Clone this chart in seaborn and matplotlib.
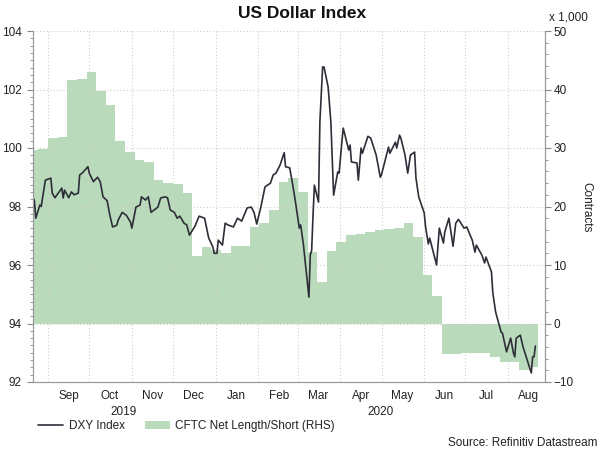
import pandas as pd
import numpy as np
import seaborn as sns
import matplotlib.pyplot as plt
import matplotlib.dates as mdates
import matplotlib.ticker as mticker
from matplotlib.lines import Line2D
from matplotlib.patches import Patch
from matplotlib.transforms import blended_transform_factory

# DXY index
dxy_dates = [
    "2019-08-21", "2019-08-22", "2019-08-23", "2019-08-26", "2019-08-27", "2019-08-30",
    "2019-09-03", "2019-09-04", "2019-09-06", "2019-09-11", "2019-09-12", "2019-09-13",
    "2019-09-16", "2019-09-18", "2019-09-20", "2019-09-23", "2019-09-24", "2019-09-26",
    "2019-09-30", "2019-10-01", "2019-10-04", "2019-10-07", "2019-10-09", "2019-10-11",
    "2019-10-14", "2019-10-16", "2019-10-18", "2019-10-21", "2019-10-22", "2019-10-25",
    "2019-10-28", "2019-10-31", "2019-11-01", "2019-11-04", "2019-11-07", "2019-11-08",
    "2019-11-11", "2019-11-13", "2019-11-15", "2019-11-20", "2019-11-22", "2019-11-25",
    "2019-11-27", "2019-11-29", "2019-12-02", "2019-12-04", "2019-12-06", "2019-12-09",
    "2019-12-11", "2019-12-13", "2019-12-17", "2019-12-20", "2019-12-24", "2019-12-27",
    "2019-12-30", "2019-12-31", "2020-01-02", "2020-01-03", "2020-01-06", "2020-01-08",
    "2020-01-10", "2020-01-14", "2020-01-17", "2020-01-20", "2020-01-24", "2020-01-27",
    "2020-01-29", "2020-01-31", "2020-02-03", "2020-02-06", "2020-02-10", "2020-02-12",
    "2020-02-14", "2020-02-17", "2020-02-20", "2020-02-21", "2020-02-24", "2020-02-26",
    "2020-02-28", "2020-03-02", "2020-03-03", "2020-03-05", "2020-03-09", "2020-03-10",
    "2020-03-11", "2020-03-12", "2020-03-13", "2020-03-16", "2020-03-17", "2020-03-19",
    "2020-03-20", "2020-03-23", "2020-03-25", "2020-03-27", "2020-03-30", "2020-03-31",
    "2020-04-02", "2020-04-03", "2020-04-07", "2020-04-08", "2020-04-09", "2020-04-13",
    "2020-04-14", "2020-04-16", "2020-04-17", "2020-04-21", "2020-04-23", "2020-04-27",
    "2020-04-30", "2020-05-01", "2020-05-04", "2020-05-06", "2020-05-07", "2020-05-11",
    "2020-05-12", "2020-05-14", "2020-05-15", "2020-05-18", "2020-05-20", "2020-05-22",
    "2020-05-25", "2020-05-26", "2020-05-28", "2020-06-01", "2020-06-02", "2020-06-04",
    "2020-06-05", "2020-06-10", "2020-06-12", "2020-06-15", "2020-06-16", "2020-06-19",
    "2020-06-22", "2020-06-24", "2020-06-26", "2020-06-30", "2020-07-02", "2020-07-06",
    "2020-07-08", "2020-07-09", "2020-07-13", "2020-07-15", "2020-07-16", "2020-07-20",
    "2020-07-21", "2020-07-23", "2020-07-27", "2020-07-28", "2020-07-31", "2020-08-03",
    "2020-08-05", "2020-08-06", "2020-08-07", "2020-08-10", "2020-08-12", "2020-08-18",
    "2020-08-19", "2020-08-20", "2020-08-21",
]
dxy_values = [
    98.30, 98.20, 97.60, 98.05, 98.00, 98.90,
    98.97, 98.46, 98.30, 98.63, 98.29, 98.56,
    98.30, 98.50, 98.40, 98.46, 99.08, 99.15,
    99.36, 99.14, 98.85, 99.00, 98.85, 98.33,
    98.20, 97.70, 97.30, 97.36, 97.53, 97.80,
    97.70, 97.47, 97.26, 97.98, 98.05, 98.33,
    98.22, 98.33, 97.80, 97.98, 98.29, 98.33,
    98.30, 97.88, 97.80, 97.60, 97.67, 97.43,
    97.37, 97.02, 97.33, 97.67, 97.60, 96.92,
    96.62, 96.40, 96.40, 96.85, 96.68, 97.43,
    97.37, 97.30, 97.60, 97.50, 97.95, 97.98,
    97.80, 97.40, 97.98, 98.67, 98.80, 99.08,
    99.14, 99.42, 99.84, 99.36, 99.32, 98.80,
    98.22, 97.26, 97.37, 96.70, 94.90, 96.34,
    96.50, 97.70, 98.73, 98.15, 100.89, 102.77,
    102.77, 102.09, 100.89, 98.39, 99.18, 99.14,
    100.20, 100.68, 99.93, 100.10, 99.52, 99.49,
    98.90, 100.00, 99.82, 100.40, 100.34, 99.76,
    99.00, 99.11, 99.66, 100.03, 99.82, 100.20,
    100.00, 100.44, 100.34, 99.76, 99.14, 99.76,
    99.86, 98.97, 98.33, 97.78, 97.30, 96.72,
    96.92, 96.00, 97.26, 96.75, 97.13, 97.60,
    96.64, 97.43, 97.56, 97.26, 97.30, 96.85,
    96.44, 96.68, 96.34, 96.07, 96.27, 95.76,
    95.04, 94.40, 93.71, 93.67, 93.03, 93.50,
    92.99, 92.86, 93.50, 93.60, 93.20, 92.31,
    92.86, 92.86, 93.23,
]

# CFTC net length / short, thousands of contracts, weekly (week starting)
cftc_weeks = [
    "2019-08-18", "2019-08-25", "2019-09-01", "2019-09-08", "2019-09-15", "2019-09-22",
    "2019-09-29", "2019-10-06", "2019-10-13", "2019-10-20", "2019-10-27", "2019-11-03",
    "2019-11-10", "2019-11-17", "2019-11-24", "2019-12-01", "2019-12-08", "2019-12-15",
    "2019-12-22", "2019-12-29", "2020-01-05", "2020-01-12", "2020-01-19", "2020-01-26",
    "2020-02-02", "2020-02-09", "2020-02-16", "2020-02-23", "2020-03-01", "2020-03-08",
    "2020-03-15", "2020-03-22", "2020-03-29", "2020-04-05", "2020-04-12", "2020-04-19",
    "2020-04-26", "2020-05-03", "2020-05-10", "2020-05-17", "2020-05-24", "2020-05-31",
    "2020-06-07", "2020-06-14", "2020-06-21", "2020-06-28", "2020-07-05", "2020-07-12",
    "2020-07-19", "2020-07-26", "2020-08-02", "2020-08-09", "2020-08-16", "2020-08-23",
]
cftc_values = [
    29.7, 29.9, 31.7, 31.9, 41.6, 41.8,
    43.0, 39.7, 37.3, 31.2, 29.3, 28.0,
    27.6, 24.5, 24.0, 23.8, 22.3, 11.6,
    13.1, 12.6, 12.1, 13.2, 13.3, 16.5,
    17.2, 19.4, 24.2, 24.9, 22.4, 12.2,
    7.1, 12.4, 13.9, 15.1, 15.3, 15.6,
    15.9, 16.2, 16.3, 17.2, 14.8, 8.3,
    4.7, -5.2, -5.2, -5.1, -5.0, -5.0,
    -5.7, -6.6, -6.6, -8.0, -7.4, -7.4,
]

year_labels = [("2019", "2019-08-21", "2019-12-31"), ("2020", "2020-01-01", "2020-08-28")]

line_color = "#2e2e38"
fill_color = "#b9dbbb"
grid_color = "#cfcfc4"
text_color = "#222222"

sns.set_style("white")
plt.rcParams["font.family"] = ["Liberation Sans", "DejaVu Sans"]
plt.rcParams["font.size"] = 8.5

dxy = pd.DataFrame({"date": pd.to_datetime(dxy_dates), "value": dxy_values})
cftc = pd.DataFrame({"date": pd.to_datetime(cftc_weeks), "value": cftc_values})

fig = plt.figure(figsize=(6, 4.5), dpi=100)
ax = fig.add_axes([33 / 600, 1 - 382 / 450, (545 - 33) / 600, (382 - 31) / 450])
ax2 = ax.twinx()

# CFTC fill on the right axis, underneath
ax2.fill_between(cftc["date"], 0, cftc["value"], step="post", color=fill_color, lw=0)
ax2.set_ylim(-10, 50)

# DXY line on the left axis, on top
ax.set_zorder(ax2.get_zorder() + 1)
ax.patch.set_visible(False)
sns.lineplot(data=dxy, x="date", y="value", ax=ax, color=line_color, lw=1.2)
ax.set_ylim(92, 104)
ax.set_xlim(pd.Timestamp("2019-08-21"), pd.Timestamp("2020-08-28"))
ax.set_xlabel("")
ax.set_ylabel("")

# ticks
ax.yaxis.set_major_locator(mticker.MultipleLocator(2))
ax.yaxis.set_minor_locator(mticker.MultipleLocator(0.25))
ax2.yaxis.set_major_locator(mticker.MultipleLocator(10))
ax2.yaxis.set_minor_locator(mticker.MultipleLocator(2))
ax.xaxis.set_major_locator(mdates.MonthLocator())
ax.xaxis.set_major_formatter(mticker.NullFormatter())
ax.xaxis.set_minor_locator(mdates.MonthLocator(bymonthday=16))
ax.xaxis.set_minor_formatter(mdates.DateFormatter("%b"))

tick_gray = "#8a8a8a"
ax.tick_params(axis="y", which="major", length=4, width=0.8, color=tick_gray, pad=4,
               labelsize=8.5, labelcolor=text_color)
ax.tick_params(axis="y", which="minor", length=2.2, width=0.6, color=tick_gray)
ax2.tick_params(axis="y", which="major", length=4, width=0.8, color=tick_gray, pad=2,
                labelsize=8.5, labelcolor=text_color)
ax2.tick_params(axis="y", which="minor", length=2.2, width=0.6, color=tick_gray)
ax.tick_params(axis="x", which="major", length=3, width=0.8, color=tick_gray)
ax.tick_params(axis="x", which="minor", length=0, pad=6, labelsize=8.5, labelcolor=text_color)

# grid
ax.grid(True, which="major", axis="both", color=grid_color, ls=(0, (1, 2)), lw=0.8)

for a in (ax, ax2):
    a.spines["top"].set_visible(False)
    for s in ("left", "right", "bottom"):
        a.spines[s].set_color("#9a9a9a")
        a.spines[s].set_linewidth(0.8)

# year labels under the months
trans = blended_transform_factory(ax.transData, ax.transAxes)
for label, start, end in year_labels:
    mid = pd.Timestamp(start) + (pd.Timestamp(end) - pd.Timestamp(start)) / 2
    ax.text(mid, -0.085, label, transform=trans, ha="center", va="center",
            fontsize=8.5, color=text_color)

fig.text(0.503, 1 - 13 / 450, "US Dollar Index", ha="center", va="center",
         fontsize=12.5, fontweight="bold", color="#111111")
fig.text(549 / 600, 1 - 18 / 450, "x 1,000", ha="left", va="center",
         fontsize=8.5, color=text_color)
fig.text(586 / 600, 1 - 207 / 450, "Contracts", ha="center", va="center",
         rotation=270, fontsize=8.5, color=text_color)
fig.text(597 / 600, 1 - 443 / 450, "Source: Refinitiv Datastream", ha="right",
         va="center", fontsize=8.5, color=text_color)

handles = [Line2D([], [], color=line_color, lw=1.2),
           Patch(facecolor=fill_color, edgecolor="none")]
fig.legend(handles, ["DXY Index", "CFTC Net Length/Short (RHS)"], loc="center left",
           bbox_to_anchor=(38 / 600, 1 - 426 / 450), ncol=2, frameon=False,
           borderpad=0, borderaxespad=0, handlelength=2.1, handletextpad=0.5,
           columnspacing=1.7, fontsize=8.5, labelcolor=text_color)

fig.savefig("out.png", dpi=100)
